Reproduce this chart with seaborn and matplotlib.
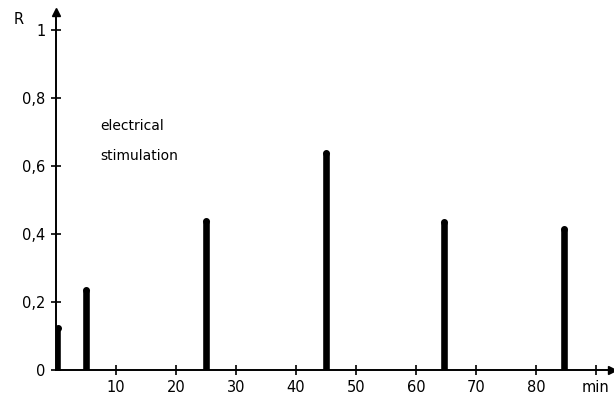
import matplotlib
matplotlib.use('Agg')
import matplotlib.pyplot as plt
import seaborn as sns
import pandas as pd

# data
minutes = [0.3, 5, 25, 45, 64.7, 84.7]
r_values = [0.124, 0.235, 0.438, 0.638, 0.435, 0.415]
x_ticks = [10, 20, 30, 40, 50, 60, 70, 80, 90]
x_labels = ["10", "20", "30", "40", "50", "60", "70", "80", "min"]
y_ticks = [0, 0.2, 0.4, 0.6, 0.8, 1.0]
y_labels = ["0", "0,2", "0,4", "0,6", "0,8", "1"]

sns.set_style("ticks")
plt.rcParams['font.family'] = ['DejaVu Sans']
plt.rcParams['text.color'] = 'black'

df = pd.DataFrame({"min": minutes, "R": r_values})

fig = plt.figure(figsize=(6.14, 4.01), dpi=100)
ax = fig.add_axes([56 / 614, 1 - 370 / 401, (612 - 56) / 614, (370 - 12) / 401])

sns.barplot(data=df, x="min", y="R", native_scale=True, width=0.26,
            color="black", saturation=1, ax=ax)
# rounded tops
ax.scatter(minutes, r_values, s=16, color="black", zorder=3)

ax.set_xlim(0, 92.7)
ax.set_ylim(0, 1.053)
ax.set_xticks(x_ticks)
ax.set_xticklabels(x_labels)
ax.set_yticks(y_ticks)
ax.set_yticklabels(y_labels)
ax.set_xlabel("")
ax.set_ylabel("")

for side in ["top", "right"]:
    ax.spines[side].set_visible(False)
for side in ["left", "bottom"]:
    ax.spines[side].set_linewidth(1.4)
    ax.spines[side].set_color("black")
ax.tick_params(direction="inout", length=7, width=1.2, labelsize=10.5,
               colors="black", pad=4)

# arrow heads on the axes
ax.plot(1, 0, ">k", markersize=6, transform=ax.transAxes, clip_on=False)
ax.plot(0, 1, "^k", markersize=6, transform=ax.transAxes, clip_on=False)

fig.text(14 / 614, 1 - 19 / 401, "R", fontsize=10.5, ha="left", va="center")
fig.text(100 / 614, 1 - 126 / 401, "electrical", fontsize=10, ha="left", va="center")
fig.text(100 / 614, 1 - 156 / 401, "stimulation", fontsize=10, ha="left", va="center")

fig.savefig("out.png", dpi=100)
